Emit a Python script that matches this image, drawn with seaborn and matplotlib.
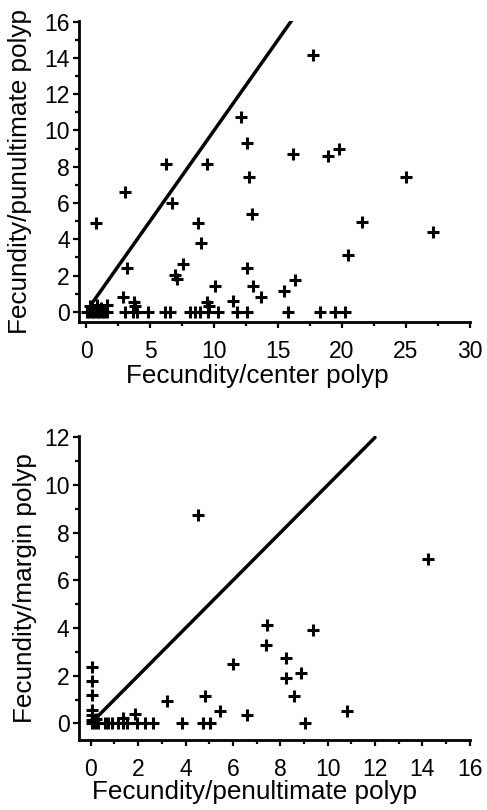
import matplotlib
matplotlib.use("Agg")
import matplotlib.pyplot as plt
from matplotlib.ticker import MultipleLocator
import seaborn as sns
import pandas as pd

# top panel: center polyp vs penultimate polyp
center_x = [0.78, 3.05, 3.18, 2.9, 3.78, 3.8, 0.83, 1.6, 0.3, 1.2,
            6.25, 6.69, 6.95, 7.14, 7.55, 8.78, 8.98, 9.48, 9.43, 9.6,
            10.08, 11.5, 12.08, 12.55, 12.76, 12.94, 12.55, 13.02, 13.7, 15.45,
            16.33, 16.2, 17.76, 18.93, 19.77, 20.49, 21.54, 25.0, 27.08,
            0.05, 0.25, 0.44, 0.65, 0.83, 1.05, 1.22, 1.4, 1.6, 3.05,
            3.7, 3.96, 4.87, 6.17, 6.56, 8.1, 8.5, 8.9, 9.55, 10.34,
            11.77, 12.55, 15.8, 18.28, 19.45, 20.23]
penult_y = [4.87, 6.58, 2.39, 0.83, 0.55, 0.3, 0.37, 0.37, 0.3, 0.2,
            8.14, 6.01, 2.02, 1.78, 2.61, 4.87, 3.77, 8.14, 0.55, 0.3,
            1.42, 0.6, 10.75, 9.32, 7.44, 5.42, 2.39, 1.42, 0.8, 1.17,
            1.75, 8.73, 14.15, 8.6, 8.97, 3.13, 4.96, 7.41, 4.41,
            0, 0, 0, 0, 0, 0, 0, 0, 0, 0,
            0, 0, 0, 0, 0, 0, 0, 0, 0, 0,
            0, 0, 0, 0, 0, 0]
line_top = [0.4, 16.4]

# bottom panel: penultimate polyp vs margin polyp
penult_x = [0.05, 0.05, 0.05, 0.05, 0.05, 0.05,
            0.04, 0.18, 0.32, 0.6, 0.74, 0.89, 1.16, 1.38, 1.52, 1.94,
            2.29, 2.64, 3.84, 4.75, 5.03, 9.04,
            1.87, 1.38, 3.2, 4.82, 5.46, 6.61, 6.02, 4.54, 14.25, 7.43,
            7.4, 9.4, 8.24, 8.24, 8.87, 8.58, 10.83, 0.2]
margin_y = [2.38, 1.78, 1.19, 0.56, 0.35, 0.14,
            0, 0, 0, 0, 0, 0, 0, 0, 0, 0,
            0, 0, 0, 0, 0, 0,
            0.38, 0.21, 0.93, 1.13, 0.5, 0.33, 2.5, 8.73, 6.9, 4.11,
            3.3, 3.9, 2.76, 1.89, 2.13, 1.15, 0.52, 0.2]
line_bottom = [0.2, 12.0]

sns.set_style("ticks", {'axes.edgecolor': 'black', 'text.color': 'black',
                        'axes.labelcolor': 'black', 'xtick.color': 'black',
                        'ytick.color': 'black'})
plt.rcParams['font.family'] = ['Liberation Sans', 'DejaVu Sans']

fig = plt.figure(figsize=(4.87, 8.10), dpi=100)
ax1 = fig.add_axes([0.163, 0.6028, 0.802, 0.3715])
ax2 = fig.add_axes([0.1626, 0.0864, 0.802, 0.375])

top = pd.DataFrame({'x': center_x, 'y': penult_y})
bottom = pd.DataFrame({'x': penult_x, 'y': margin_y})

for ax, df, ln in [(ax1, top, line_top), (ax2, bottom, line_bottom)]:
    sns.lineplot(x=ln, y=ln, ax=ax, color='black', linewidth=2.5)
    sns.scatterplot(x='x', y='y', data=df, ax=ax, marker='+', s=70,
                    color='black', linewidth=2.2)
    sns.despine(ax=ax)
    for s in ['left', 'bottom']:
        ax.spines[s].set_linewidth(2.0)
    ax.tick_params(which='both', direction='out', width=1.6, labelsize=16.5,
                   colors='black')
    ax.tick_params(which='major', length=4)
    ax.tick_params(which='minor', length=3)
    ax.tick_params(axis='x', which='major', pad=9)
    ax.tick_params(axis='y', which='major', pad=3)

ax1.set_xlim(-0.52, 30)
ax1.set_ylim(-0.55, 16.05)
ax1.xaxis.set_major_locator(MultipleLocator(5))
ax1.xaxis.set_minor_locator(MultipleLocator(2.5))
ax1.yaxis.set_major_locator(MultipleLocator(2))
ax1.yaxis.set_minor_locator(MultipleLocator(1))
ax1.set_xlabel('Fecundity/center polyp', fontsize=18.8)
ax1.set_ylabel('Fecundity/punultimate polyp', fontsize=18.8)
ax1.xaxis.set_label_coords(0.455, -0.142)
ax1.yaxis.set_label_coords(-0.121, 0.5)

ax2.set_xlim(-0.49, 16)
ax2.set_ylim(-0.7, 12.05)
ax2.xaxis.set_major_locator(MultipleLocator(2))
ax2.xaxis.set_minor_locator(MultipleLocator(1))
ax2.yaxis.set_major_locator(MultipleLocator(2))
ax2.yaxis.set_minor_locator(MultipleLocator(1))
ax2.set_xlabel('Fecundity/penultimate polyp', fontsize=18.8)
ax2.set_ylabel('Fecundity/margin polyp', fontsize=18.8)
ax2.xaxis.set_label_coords(0.45, -0.13)
ax2.yaxis.set_label_coords(-0.107, 0.5)

plt.savefig('out.png', dpi=100)
